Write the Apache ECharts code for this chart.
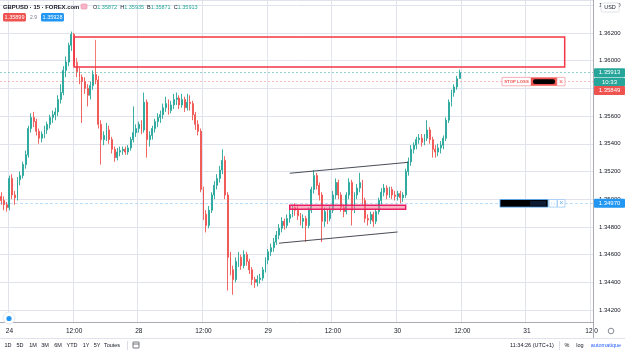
<!DOCTYPE html>
<html><head><meta charset="utf-8">
<script src="https://cdn.jsdelivr.net/npm/echarts@6/dist/echarts.min.js"></script>
<style>html,body{margin:0;padding:0;background:#fff}#c{width:625px;height:352px}</style>
</head><body><div id="c"></div>
<script>
// ---------- categories (30-minute slots) ----------
const dayNames = ['23','24','28','29','30','31'];
const firstCategory = '23 22:30';
const lastCategory = '31 12:00';
const tickLabels = {'24 00:00':'24','24 12:00':'12:00','28 00:00':'28','28 12:00':'12:00','29 00:00':'29','29 12:00':'12:00','30 00:00':'30','30 12:00':'12:00','31 00:00':'31','31 12:00':'12:0'};

// ---------- OHLC values ----------
const opens = [
1.3502,1.3499,1.3496,1.3494,1.3515,1.3503,1.3501,1.3514,1.3517,1.3525,
1.3532,1.3551,1.3559,1.3556,1.3549,1.3544,1.3547,1.3550,1.3554,1.3559,
1.3561,1.3563,1.3572,1.3577,1.3593,1.3599,1.3611,1.3619,1.3599,1.3592,
1.3588,1.3585,1.3580,1.3575,1.3582,1.3590,1.3586,1.3554,1.3543,1.3546,
1.3550,1.3543,1.3536,1.3530,1.3534,1.3535,1.3536,1.3534,1.3537,1.3543,
1.3548,1.3551,1.3554,1.3550,1.3570,1.3543,1.3546,1.3551,1.3556,1.3559,
1.3561,1.3566,1.3569,1.3564,1.3568,1.3572,1.3573,1.3568,1.3572,1.3566,
1.3570,1.3569,1.3561,1.3554,1.3549,1.3507,1.3489,1.3481,1.3492,1.3503,
1.3510,1.3515,1.3521,1.3528,1.3503,1.3458,1.3449,1.3442,1.3455,1.3458,
1.3452,1.3460,1.3455,1.3449,1.3442,1.3440,1.3442,1.3443,1.3449,1.3456,
1.3462,1.3465,1.3469,1.3474,1.3479,1.3484,1.3481,1.3486,1.3489,1.3494,
1.3492,1.3488,1.3484,1.3486,1.3481,1.3492,1.3507,1.3517,1.3510,1.3503,
1.3484,1.3491,1.3486,1.3492,1.3503,1.3512,1.3503,1.3494,1.3491,1.3503,
1.3512,1.3492,1.3503,1.3508,1.3512,1.3499,1.3486,1.3485,1.3489,1.3484,
1.3491,1.3499,1.3505,1.3508,1.3503,1.3507,1.3503,1.3502,1.3504,1.3501,
1.3503,1.3520,1.3527,1.3536,1.3539,1.3543,1.3544,1.3541,1.3544,1.3550,
1.3543,1.3536,1.3534,1.3537,1.3539,1.3544,1.3557,1.3570,1.3577,1.3581,
1.35872];
const closes = [
1.3499,1.3496,1.3494,1.3515,1.3503,1.3501,1.3514,1.3517,1.3525,1.3532,
1.3551,1.3559,1.3556,1.3549,1.3544,1.3547,1.3550,1.3554,1.3559,1.3561,
1.3563,1.3572,1.3577,1.3593,1.3599,1.3611,1.3619,1.3599,1.3592,1.3588,
1.3585,1.3580,1.3575,1.3582,1.3590,1.3586,1.3554,1.3543,1.3546,1.3550,
1.3543,1.3536,1.3530,1.3534,1.3535,1.3536,1.3534,1.3537,1.3543,1.3548,
1.3551,1.3554,1.3550,1.3570,1.3543,1.3546,1.3551,1.3556,1.3559,1.3561,
1.3566,1.3569,1.3564,1.3568,1.3572,1.3573,1.3568,1.3572,1.3566,1.3570,
1.3569,1.3561,1.3554,1.3549,1.3507,1.3489,1.3481,1.3492,1.3503,1.3510,
1.3515,1.3521,1.3528,1.3503,1.3458,1.3449,1.3442,1.3455,1.3458,1.3452,
1.3460,1.3455,1.3449,1.3442,1.3440,1.3442,1.3443,1.3449,1.3456,1.3462,
1.3465,1.3469,1.3474,1.3479,1.3484,1.3481,1.3486,1.3489,1.3494,1.3492,
1.3488,1.3484,1.3486,1.3481,1.3492,1.3507,1.3517,1.3510,1.3503,1.3484,
1.3491,1.3486,1.3492,1.3503,1.3512,1.3503,1.3494,1.3491,1.3503,1.3512,
1.3492,1.3503,1.3508,1.3512,1.3499,1.3486,1.3485,1.3489,1.3484,1.3491,
1.3499,1.3505,1.3508,1.3503,1.3507,1.3503,1.3502,1.3504,1.3501,1.3503,
1.3520,1.3527,1.3536,1.3539,1.3543,1.3544,1.3541,1.3544,1.3550,1.3543,
1.3536,1.3534,1.3537,1.3539,1.3544,1.3557,1.3570,1.3577,1.3581,1.3587,
1.35913];
const lows = [
1.3496,1.3492,1.3491,1.3492,1.3500,1.3496,1.3499,1.3510,1.3515,1.3522,
1.3530,1.3548,1.3552,1.3546,1.3540,1.3541,1.3544,1.3547,1.3551,1.3555,
1.3557,1.3560,1.3569,1.3575,1.3588,1.3596,1.3607,1.3596,1.3588,1.3583,
1.3555,1.3576,1.3567,1.3572,1.3579,1.3583,1.3551,1.3525,1.3539,1.3542,
1.3540,1.3533,1.3527,1.3528,1.3531,1.3532,1.3532,1.3532,1.3535,1.3541,
1.3545,1.3548,1.3547,1.3548,1.3530,1.3538,1.3543,1.3548,1.3552,1.3555,
1.3558,1.3563,1.3561,1.3562,1.3565,1.3568,1.3565,1.3566,1.3563,1.3564,
1.3564,1.3557,1.3550,1.3546,1.3505,1.3485,1.3476,1.3479,1.3490,1.3500,
1.3507,1.3512,1.3518,1.3500,1.3434,1.3445,1.3431,1.3440,1.3451,1.3449,
1.3450,1.3452,1.3446,1.3438,1.3436,1.3437,1.3439,1.3441,1.3447,1.3453,
1.3459,1.3462,1.3467,1.3471,1.3476,1.3478,1.3479,1.3483,1.3487,1.3488,
1.3485,1.3481,1.3479,1.3469,1.3479,1.3490,1.3504,1.3507,1.3499,1.3469,
1.3480,1.3482,1.3484,1.3490,1.3500,1.3500,1.3491,1.3487,1.3489,1.3500,
1.3481,1.3490,1.3500,1.3505,1.3496,1.3483,1.3481,1.3482,1.3480,1.3482,
1.3489,1.3496,1.3502,1.3500,1.3501,1.3500,1.3499,1.3499,1.3497,1.3498,
1.3501,1.3517,1.3524,1.3533,1.3536,1.3540,1.3538,1.3539,1.3542,1.3540,
1.3530,1.3530,1.3531,1.3533,1.3536,1.3542,1.3555,1.3567,1.3574,1.3579,
1.35871];
const highs = [
1.3505,1.3502,1.3498,1.3517,1.3518,1.3506,1.3516,1.3520,1.3527,1.3535,
1.3553,1.3562,1.3563,1.3558,1.3551,1.3549,1.3553,1.3556,1.3561,1.3564,
1.3566,1.3575,1.3583,1.3596,1.3603,1.3613,1.3621,1.3620,1.3602,1.3595,
1.3590,1.3588,1.3583,1.3585,1.3593,1.3615,1.3589,1.3557,1.3549,1.3555,
1.3553,1.3545,1.3538,1.3537,1.3538,1.3538,1.3538,1.3539,1.3545,1.3567,
1.3554,1.3556,1.3557,1.3577,1.3572,1.3549,1.3553,1.3558,1.3562,1.3564,
1.3569,1.3574,1.3572,1.3571,1.3576,1.3577,1.3575,1.3576,1.3574,1.3576,
1.3575,1.3571,1.3563,1.3557,1.3551,1.3509,1.3492,1.3495,1.3505,1.3513,
1.3518,1.3524,1.3536,1.3531,1.3505,1.3462,1.3452,1.3458,1.3462,1.3460,
1.3463,1.3462,1.3457,1.3451,1.3444,1.3445,1.3446,1.3451,1.3458,1.3464,
1.3468,1.3472,1.3477,1.3482,1.3487,1.3486,1.3489,1.3493,1.3496,1.3497,
1.3495,1.3490,1.3489,1.3488,1.3494,1.3509,1.3521,1.3519,1.3512,1.3505,
1.3494,1.3493,1.3495,1.3506,1.3515,1.3514,1.3505,1.3496,1.3505,1.3515,
1.3514,1.3505,1.3511,1.3519,1.3514,1.3501,1.3489,1.3491,1.3491,1.3493,
1.3501,1.3508,1.3511,1.3510,1.3509,1.3509,1.3506,1.3506,1.3506,1.3505,
1.3522,1.3530,1.3539,1.3541,1.3545,1.3547,1.3547,1.3547,1.3557,1.3552,
1.3545,1.3539,1.3540,1.3542,1.3546,1.3559,1.3572,1.3579,1.3583,1.3589,
1.35935];

// ---------- price levels / drawings (data space) ----------
const lastPrice = 1.35913, stopLossPrice = 1.35849, orderPrice = 1.34970;
const resistanceZone = {from:'24 12:00', to:'31 07:00', top:1.36171, bottom:1.35954};
const supportZone = {from:'29 04:00', to:'30 01:30', top:1.34956, bottom:1.34927};
const channelUpper = [['29 04:00',1.35187],['30 02:00',1.35266]];
const channelLower = [['29 02:00',1.34682],['30 00:00',1.34763]];

// ---------- build ----------
const allTimes = [];
for (const d of dayNames) for (let h = 0; h < 24; h++) for (const m of ['00','30'])
  allTimes.push(d + ' ' + String(h).padStart(2,'0') + ':' + m);
const categories = allTimes.slice(allTimes.indexOf(firstCategory), allTimes.indexOf(lastCategory) + 1);
const ohlc = opens.map((o,i) => [o, closes[i], lows[i], highs[i]]);

const FONT = '"Liberation Sans", Arial, sans-serif';
const UP = '#26a69a', DOWN = '#ef5350', BLUE = '#2196f3', TXT = '#131722', GRIDC = '#e0e3eb', AXC = '#a8abb4';

const option = {
  animation:false,
  backgroundColor:'#ffffff',
  grid:{left:0, right:32, top:0, bottom:30},
  xAxis:{
    type:'category', data:categories, boundaryGap:true,
    axisLine:{show:true, lineStyle:{color:AXC, width:1}},
    axisTick:{show:false},
    splitLine:{show:true, interval:(i, v) => v in tickLabels, lineStyle:{color:GRIDC, width:1}},
    axisLabel:{
      interval:(i, v) => v in tickLabels,
      formatter:v => tickLabels[v] || '',
      fontSize:6.5, color:TXT, margin:6, fontFamily:FONT
    }
  },
  yAxis:{
    type:'value', position:'right', scale:true,
    min:1.34113, max:1.36438, minInterval:0.002, maxInterval:0.002, splitNumber:12,
    axisLine:{show:true, lineStyle:{color:AXC, width:1}},
    axisTick:{show:false},
    splitLine:{show:true, lineStyle:{color:GRIDC, width:1}},
    axisLabel:{
      margin:6, fontSize:6, color:TXT, fontFamily:FONT,
      showMinLabel:false, showMaxLabel:false,
      formatter:v => (Math.abs(v/0.002 - Math.round(v/0.002)) < 1e-6) ? v.toFixed(5) : ''
    }
  },
  series:[
    {
      type:'candlestick', data:ohlc, z:3, barWidth:1.4,
      itemStyle:{color:UP, color0:DOWN, borderColor:UP, borderColor0:DOWN, borderWidth:0.9},
      markArea:{
        silent:true, z:4, animation:false,
        label:{show:false},
        data:[
          [{xAxis:resistanceZone.from, yAxis:resistanceZone.top,
            itemStyle:{color:'rgba(255,255,255,0.15)', borderColor:'#f23645', borderWidth:1.5}},
           {xAxis:resistanceZone.to, yAxis:resistanceZone.bottom}],
          [{xAxis:supportZone.from, yAxis:supportZone.top,
            itemStyle:{color:'rgba(240,120,150,0.55)', borderColor:'#e91e63', borderWidth:1.5}},
           {xAxis:supportZone.to, yAxis:supportZone.bottom}]
        ]
      },
      markLine:{
        silent:true, symbol:'none', z:5, animation:false, precision:6,
        label:{show:false},
        lineStyle:{color:'#4a4d57', width:1, type:'solid'},
        data:[
          [{coord:channelUpper[0]},{coord:channelUpper[1]}],
          [{coord:channelLower[0]},{coord:channelLower[1]}],
          {yAxis:lastPrice, lineStyle:{color:UP, width:1, type:[2,2], opacity:0.5}},
          {yAxis:stopLossPrice, lineStyle:{color:DOWN, width:1, type:[2,2], opacity:0.4}},
          {yAxis:orderPrice, lineStyle:{color:BLUE, width:1, type:[3,2], opacity:0.3}}
        ]
      }
    }
  ]
};

const chart = echarts.init(document.getElementById('c'), null, {renderer:'canvas'});
chart.setOption(option);

const py = p => chart.convertToPixel({yAxisIndex:0}, p);
const g = [];
function rect(x, y, w, h, fill, stroke, lw, r) {
  g.push({type:'rect', shape:{x, y, width:w, height:h, r:r||0}, style:{fill:fill||'none', stroke:stroke||null, lineWidth:lw||1}, z:100, silent:true});
}
function text(x, y, t, fill, size, align, weight) {
  g.push({type:'text', x, y, style:{text:t, fill, font:(weight||'normal') + ' ' + size + 'px ' + FONT, textAlign:align||'left', textVerticalAlign:'middle'}, z:101, silent:true});
}
function line(x1, y1, x2, y2, stroke, lw) {
  g.push({type:'line', shape:{x1, y1, x2, y2}, style:{stroke, lineWidth:lw||1}, z:100, silent:true});
}

// header
text(3, 7, 'GBPUSD · 15 · FOREX.com', TXT, 5.9, 'left', '600');
rect(81, 4, 6, 5, '#f7b6c8', '#ec8aa6', 0.6, 1);
g.push({type:'text', x:93, y:7, z:101, silent:true, style:{
  text:'{l|O}{v|1.35872}  {l|H}{v|1.35935}  {l|B}{v|1.35871}  {l|C}{v|1.35913}',
  font:'5.5px ' + FONT, textVerticalAlign:'middle',
  rich:{l:{fill:TXT, font:'5.5px ' + FONT}, v:{fill:UP, font:'5.5px ' + FONT}}
}});
rect(3, 13, 23, 8.5, DOWN, null, 0, 1.5);
text(14.5, 17.3, '1.35899', '#fff', 5.5, 'center');
text(33.5, 17.3, '2.9', '#787b86', 5, 'center');
rect(41, 13, 23, 8.5, BLUE, null, 0, 1.5);
text(52.5, 17.3, '1.35928', '#fff', 5.5, 'center');

// right price axis tags
const yl = py(lastPrice), ys = py(stopLossPrice), yo = py(orderPrice);
rect(601, 3, 18, 9, '#fff', '#d1d4dc', 0.7, 1.5);
text(610, 7.5, 'USD', TXT, 5.5, 'center');
rect(594, yl - 4.5, 31, 9, UP, null, 0, 1);
text(609.5, yl, '1.35913', '#fff', 6, 'center');
rect(594, yl + 5, 31, 8.5, UP, null, 0, 1);
text(609.5, yl + 9.3, '10:33', '#fff', 6, 'center');
rect(594, ys + 4.5, 31, 9, DOWN, null, 0, 1);
text(609.5, ys + 9, '1.35849', '#fff', 6, 'center');
rect(594, yo - 4.5, 31, 9, BLUE, null, 0, 1);
text(609.5, yo, '1.34970', '#fff', 6, 'center');

// stop loss widget
rect(502, ys - 4.2, 29, 8.4, '#fff', '#f3a0a6', 0.8, 0);
text(516.5, ys, 'STOP LOSS', DOWN, 4.3, 'center', 'bold');
rect(531, ys - 4.2, 26, 8.4, DOWN, null, 0, 0);
rect(533, ys - 2.4, 22, 4.8, '#000', null, 0, 2);
rect(557, ys - 4.2, 8, 8.4, '#fff', '#f3a0a6', 0.8, 0);
text(561, ys, '×', DOWN, 7, 'center');

// order widget
rect(500, yo - 3.8, 48, 7.6, '#000', '#5aa9f0', 0.9, 0);
rect(530, yo - 2.5, 16, 5, '#0d1b33', null, 0, 0);
rect(549, yo - 3.8, 8, 7.6, '#fff', '#9cc9f5', 0.8, 0);
text(553, yo, '↑↓', '#6aaef0', 4.5, 'center');
rect(557.5, yo - 3.8, 7.5, 7.6, '#fff', '#9cc9f5', 0.8, 0);
text(561.2, yo, '×', '#6aaef0', 7, 'center');

// axis extras
line(593.5, 322, 593.5, 338, AXC, 1);
g.push({type:'circle', shape:{cx:611, cy:331, r:2.8}, style:{fill:'none', stroke:'#6b6f7a', lineWidth:0.8}, z:100, silent:true});
g.push({type:'circle', shape:{cx:9, cy:318, r:6}, style:{fill:'#fff', stroke:'#e0e3eb', lineWidth:0.8}, z:100, silent:true});
g.push({type:'circle', shape:{cx:9, cy:318.5, r:2.6}, style:{fill:BLUE}, z:101, silent:true});

// bottom toolbar
line(0, 338.5, 625, 338.5, '#e0e3eb', 1);
const tb = [['1D',8],['5D',20],['1M',33],['3M',45],['6M',58],['YTD',72],['1Y',86],['5Y',97],['Toutes',112]];
tb.forEach(([t, x]) => text(x, 345.5, t, TXT, 5.5, 'center'));
line(127.5, 341, 127.5, 350, '#d1d4dc', 0.8);
rect(133, 342, 6, 6, 'none', '#50535e', 0.8, 0.5);
line(133, 344, 139, 344, '#50535e', 0.8);
text(532, 345.5, '11:34:26 (UTC+1)', TXT, 5.5, 'center');
line(559.5, 341, 559.5, 350, '#d1d4dc', 0.8);
text(567, 345.5, '%', TXT, 5.5, 'center');
text(580, 345.5, 'log', TXT, 5.5, 'center');
text(606, 345.5, 'automatique', '#2962ff', 5.5, 'center');

chart.setOption({graphic:g});
</script>
</body></html>
